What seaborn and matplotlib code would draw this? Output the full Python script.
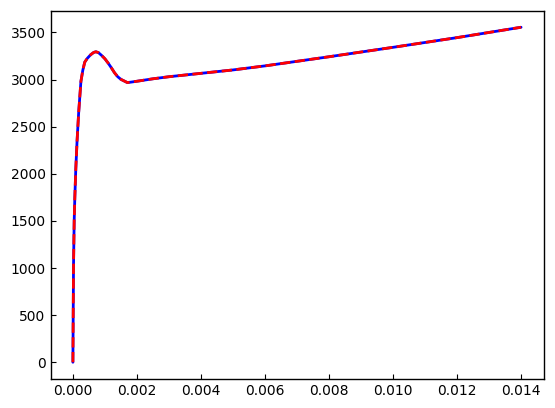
import numpy as np
import pandas as pd
import matplotlib
matplotlib.use("Agg")
import matplotlib.pyplot as plt
import seaborn as sns

# strain / stress values
strain = [0.0, 0.00001, 0.00002, 0.00004, 0.00006, 0.00009, 0.00013, 0.00018,
          0.00025, 0.00031, 0.00037, 0.00045, 0.00055, 0.00065, 0.00072, 0.0008,
          0.0009, 0.0010, 0.0011, 0.0012, 0.0013, 0.0014, 0.0015, 0.0016,
          0.0017, 0.0018, 0.0020, 0.0025, 0.0030, 0.0040, 0.0050, 0.0060,
          0.0080, 0.0100, 0.0120, 0.0140]
stress = [0, 550, 1050, 1500, 1750, 2050, 2350, 2650,
          2980, 3100, 3185, 3225, 3262, 3288, 3295, 3285,
          3255, 3220, 3175, 3125, 3072, 3030, 3002, 2985,
          2968, 2972, 2982, 3008, 3030, 3066, 3102, 3145,
          3242, 3342, 3445, 3555]

df = pd.DataFrame({"strain": strain, "stress": stress})

sns.set_style("ticks")
plt.rcParams["xtick.direction"] = "in"
plt.rcParams["ytick.direction"] = "in"

fig = plt.figure(figsize=(5.55, 4.08), dpi=100)
ax = fig.add_axes([50.5 / 555, 1 - 379 / 408, 493 / 555, 368.5 / 408])

sns.lineplot(data=df, x="strain", y="stress", color="blue", linewidth=2,
             estimator=None, sort=False, ax=ax)
sns.lineplot(data=df, x="strain", y="stress", color="red", linewidth=2,
             linestyle="--", estimator=None, sort=False, ax=ax)

ax.set_xlabel("")
ax.set_ylabel("")
for s in ax.spines.values():
    s.set_linewidth(1.0)
    s.set_color("black")
ax.tick_params(colors="black", labelsize=10)

fig.savefig("out.png", dpi=100)
